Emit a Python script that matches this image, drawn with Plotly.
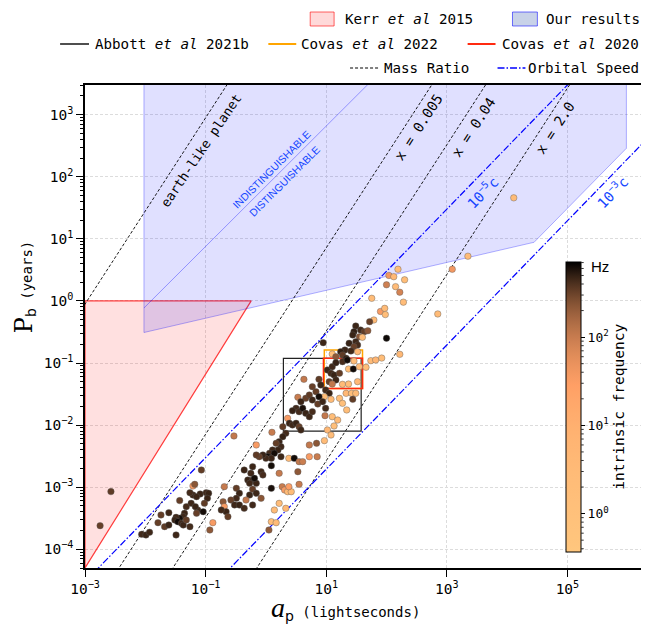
import numpy as np
import plotly.graph_objects as go

# ---------------- data ----------------
# pulsar population: log10 projected semi-major axis (light-seconds),
# log10 binary period (years), intrinsic spin frequency (Hz)
log10_ap = [1.755, 1.79, 1.72, 1.49, 1.57, 1.46, 1.63, 1.44, 1.55, 1.60, 1.49, 1.38, 1.52, 1.46, 1.52,
            1.31, 1.24, 1.27, 1.41, 1.10, 1.16, 1.33, 1.27, 1.35, 0.95, 1.74, 1.82, 1.66, 1.02, 1.10,
            1.16, 1.08, 1.13, 1.22, 1.16, 1.05, 1.10, 1.27, 1.37, 1.52, 1.37, 1.45, 1.46, 1.55, 0.88,
            0.77, 0.91, 0.99, 0.83, 1.05, 0.97, 1.08, 1.22, 1.33, 1.42, 1.49, 1.44, 0.63, 0.53, 0.66,
            0.72, 0.77, 0.88, 0.58, 0.50, 0.44, 0.55, 0.61, 0.66, 0.72, 0.77, 0.86, 0.94, 0.99, 0.98,
            1.10, 1.19, 1.13, 1.02, 1.08, 0.97, 1.34, 1.27, 0.36, 0.28, 0.39, 0.44, 0.50, 0.55, 0.58,
            0.33, 0.28, 0.22, 0.25, 0.17, 0.20, 0.11, 0.06, 0.14, 0.03, 0.09, 0.00, -0.05, -0.11, -0.16,
            0.25, 0.10, -0.53, -0.16, 0.72, 0.84, 0.85, 0.72, 0.38, 0.47, 0.55, 0.53, 0.61, 0.22, 0.09,
            0.09, -0.22, -0.25, -0.30, -0.22, -0.27, -0.16, -0.19, -0.08, -0.05, -0.36, -0.49, -0.44, -0.49, -0.58,
            -0.52, -0.44, -0.36, -0.27, -0.22, -0.16, -0.08, -0.22, -0.33, -0.69, -0.71, -0.69, -0.66, -0.63, -0.74,
            0.27, 0.31, 0.36, 0.42, 0.38, 0.55, 0.22, 0.33, 0.14, 0.09, 0.05, 0.17, -0.88, -0.93, -1.21,
            -1.18, -1.07, -1.09, -0.99, -0.95, -1.21, -1.26, -1.15, -1.43, -1.24, -1.13, -1.17, -1.32, -1.35, -1.37,
            -1.43, -1.49, -1.51, -1.46, -1.40, -1.37, -1.26, -1.32, -1.15, -1.04, -0.97, -1.02, -1.61, -1.74, -1.79,
            -1.68, -1.61, -1.49, -2.06, -1.99, -1.93, -2.75, -2.57, 3.35, 3.09, 2.19, 2.04, 2.12, 2.30, 2.00,
            2.15, 2.22, 2.28, 1.90, 1.97, 1.98, 2.85, 1.69, 2.00, 1.92, 2.22, 4.11]
log10_pb = [0.042, -0.307, -0.334, -0.404, -0.468, -0.495, -0.495, -0.549, -0.576, -0.586, -0.656, -0.683, -0.71, -0.737, -0.817,
            -0.79, -0.817, -0.871, -0.806, -0.855, -0.898, -0.924, -0.978, -0.951, -0.672, -0.962, -0.951, -1.069, -1.112, -1.059,
            -0.994, -1.166, -1.193, -1.166, -1.273, -1.30, -1.338, -1.343, -1.338, -1.30, -1.096, -1.096, -0.967, -1.059, -1.263,
            -1.381, -1.354, -1.434, -1.461, -1.488, -1.542, -1.585, -1.569, -1.488, -1.488, -1.488, -1.585, -1.263, -1.552, -1.569,
            -1.515, -1.595, -1.542, -1.622, -1.73, -1.767, -1.783, -1.73, -1.81, -1.864, -1.783, -1.66, -1.622, -1.73, -1.848,
            -1.864, -1.918, -2.014, -2.078, -2.159, -2.25, -1.756, -1.649, -1.891, -2.025, -1.971, -1.998, -1.971, -2.025, -2.078,
            -2.132, -2.186, -2.266, -2.347, -2.293, -2.401, -2.401, -2.454, -2.454, -2.508, -2.535, -2.535, -2.481, -2.508, -2.481,
            -2.508, -2.116, -2.175, -2.32, -2.32, -2.293, -2.508, -2.508, -2.535, -2.535, -2.588, -2.75, -2.588, -2.776, -2.653,
            -3.018, -2.669, -2.776, -2.884, -2.884, -2.937, -2.937, -2.857, -2.75, -2.803, -2.723, -3.018, -3.098, -3.179, -3.206,
            -3.286, -3.286, -3.34, -3.125, -3.034, -3.098, -3.179, -3.286, -3.206, -2.991, -3.233, -3.313, -3.394, -3.474, -3.367,
            -2.991, -3.045, -3.072, -3.072, -2.991, -2.954, -3.26, -3.34, -3.367, -3.555, -3.689, -3.571, -3.571, -3.689, -2.98,
            -2.954, -2.723, -3.109, -3.088, -3.098, -3.125, -3.088, -3.152, -3.216, -3.259, -3.367, -3.313, -3.313, -3.42, -3.474,
            -3.501, -3.485, -3.528, -3.555, -3.582, -3.609, -3.635, -3.528, -3.42, -3.394, -3.179, -3.259, -3.41, -3.447, -3.571,
            -3.635, -3.609, -3.769, -3.759, -3.769, -3.726, -3.619, -3.071, 0.72, 0.51, 0.51, 0.41, 0.39, 0.34, 0.26,
            0.23, 0.14, -0.02, -0.17, -0.12, -0.22, -0.21, -0.48, -0.60, -0.92, -0.86, 1.66]
freq_hz = [2.5, 3, 330, 470, 450, 500, 340, 480, 230, 2, 460, 490, 440, 320, 4,
           470, 500, 350, 450, 1.5, 220, 480, 430, 620, 460, 3, 5, 2, 470, 450,
           490, 440, 480, 340, 460, 330, 110, 3, 2, 4, 1.5, 640, 2.5, 3, 350,
           330, 470, 450, 340, 480, 2, 3, 1.5, 4, 2, 3, 340, 110, 100, 330,
           350, 460, 620, 470, 450, 490, 440, 600, 480, 460, 430, 340, 470, 450, 110,
           2, 3, 1.5, 4, 2.5, 3, 2, 1.5, 35, 340, 470, 450, 480, 330, 460,
           440, 490, 470, 450, 340, 480, 460, 440, 620, 650, 470, 450, 480, 330, 350,
           460, 100, 110, 35, 110, 230, 100, 35, 3, 640, 110, 220, 95, 105, 620,
           600, 470, 450, 480, 440, 460, 470, 620, 450, 430, 470, 340, 470, 450, 330,
           460, 480, 440, 470, 340, 460, 230, 450, 110, 105, 220, 35, 470, 340, 450,
           100, 35, 3, 2, 30, 100, 2.5, 4, 3, 2, 220, 3, 35, 220, 35,
           230, 340, 470, 450, 480, 460, 440, 470, 340, 460, 450, 480, 440, 470, 450,
           620, 460, 480, 640, 450, 470, 440, 340, 330, 620, 470, 350, 460, 340, 330,
           350, 470, 460, 450, 470, 460, 330, 350, 3, 40, 3, 40, 4, 2, 90,
           3, 80, 2.5, 35, 3, 2, 3, 220, 650, 2, 4, 3]

# Kerr et al 2015 region and "our results" region
kerr_ap = [1e-3, 1e-3, 0.57, 1e-3]
kerr_pb = [5e-5, 1.0, 1.0, 5e-5]
ours_ap = [0.0095, 0.0095, 2.8e4, 9.5e5, 9.5e5, 0.0095]
ours_pb = [1e4, 0.31, 8.8, 287, 1e4, 1e4]
boundary_ap = [0.0095, 100]
boundary_pb = [0.77, 6100]

# search boxes  [ap_min, ap_max], [pb_min, pb_max]
abbott_ap, abbott_pb = [1.95, 38], [0.008, 0.119]
covas22_ap, covas22_pb = [9.3, 40], [0.039, 0.162]
covas20_ap, covas20_pb = [9.0, 40], [0.039, 0.119]

# mass ratio lines (P ~ a^1.5 (1+q)/q^1.5) and orbital speed lines (P ~ a)
mass_ratios = [2e-6, 0.005, 0.04, 2.0]
kepler_norm = 10 ** -4.10           # years at a_p = 1 ls
orbital_labels = ["10<sup>−5</sup>c", "10<sup>−3</sup>c"]
orbital_pb_at_1ls = [0.030, 1.95e-4]

# axis ticks
x_tick_exp = [-3, -1, 1, 3, 5]
y_tick_exp = [-4, -3, -2, -1, 0, 1, 2, 3]

# colour-bar range (Hz)
fmin, fmax = 0.37, 716.0

MONO = "DejaVu Sans Mono"
BLUE = "rgb(20,70,255)"
OFF = 8                       # page body margin of the browser
W, H = 649 - OFF, 633 - OFF
ML, MR, MT, MB = 85 - OFF, 3, 85 - OFF, 65
PW, PH = W - ML - MR, H - MT - MB


def px(xpix):          # reference-picture pixel -> paper x
    return (xpix - OFF - ML) / PW


def py(ypix):          # reference-picture pixel -> paper y
    return (H - MB - (ypix - OFF)) / PH


# ---------------- colour scale: copper_r with sqrt power norm ----------------
lmin, lmax = np.log10(fmin), np.log10(fmax)
colorscale = []
for s in np.linspace(0, 1, 41):
    f = 10 ** (lmin + s * (lmax - lmin))
    v = np.sqrt(max(f - fmin, 0) / (fmax - fmin))
    t = 1 - v
    r, g, b = min(1.0, 1.25 * t), 0.7812 * t, 0.4975 * t
    colorscale.append([float(s), f"rgb({int(r*255)},{int(g*255)},{int(b*255)})"])

fig = go.Figure()

# regions
fig.add_trace(go.Scatter(x=kerr_ap, y=kerr_pb, mode="lines", fill="toself",
                         fillcolor="rgba(255,0,0,0.12)", line=dict(color="rgba(255,0,0,0.75)", width=1.2),
                         name="Kerr et al 2015", hoverinfo="skip"))
fig.add_trace(go.Scatter(x=ours_ap, y=ours_pb, mode="lines", fill="toself",
                         fillcolor="rgba(0,0,255,0.12)", line=dict(color="rgba(0,0,255,0.3)", width=1),
                         name="Our results", hoverinfo="skip"))
fig.add_trace(go.Scatter(x=boundary_ap, y=boundary_pb, mode="lines",
                         line=dict(color="rgba(0,0,255,0.35)", width=1), hoverinfo="skip"))

# mass-ratio lines
ap_line = np.logspace(-4, 7, 12)
for q in mass_ratios:
    pb = kepler_norm * ap_line ** 1.5 * (1 + q) / q ** 1.5
    fig.add_trace(go.Scatter(x=ap_line, y=pb, mode="lines",
                             line=dict(color="black", width=0.9, dash="3px,2px"),
                             name="Mass Ratio", hoverinfo="skip"))
# orbital speed lines
for p1 in orbital_pb_at_1ls:
    fig.add_trace(go.Scatter(x=ap_line, y=p1 * ap_line, mode="lines",
                             line=dict(color="blue", width=1.2, dash="7px,2px,1.5px,2px"),
                             name="Orbital Speed", hoverinfo="skip"))


def rect(ap, pb):
    return ([ap[0], ap[1], ap[1], ap[0], ap[0]], [pb[0], pb[0], pb[1], pb[1], pb[0]])


boxes = [((abbott_ap, abbott_pb), "Abbott <i>et al</i> 2021b", "#222222", 1.2),
         ((covas22_ap, covas22_pb), "Covas <i>et al</i> 2022", "#ffa500", 1.5),
         ((covas20_ap, covas20_pb), "Covas <i>et al</i> 2020", "#ff2a10", 1.5)]
for (ap, pb), nm, col, w in boxes:
    xs, ys = rect(ap, pb)
    fig.add_trace(go.Scatter(x=xs, y=ys, mode="lines", line=dict(color=col, width=w),
                             name=nm, hoverinfo="skip"))

# pulsars
CB_X, CB_Y, CB_LEN, CB_TH = px(568), py(551.7), 290, 15
fig.add_trace(go.Scatter(
    x=10 ** np.array(log10_ap), y=10 ** np.array(log10_pb), mode="markers",
    marker=dict(size=6.5, color=np.log10(freq_hz), colorscale=colorscale, cmin=lmin, cmax=lmax,
                line=dict(color="rgba(90,90,90,0.8)", width=0.5),
                colorbar=dict(x=CB_X, xanchor="left", y=CB_Y, yanchor="bottom", xpad=0, ypad=0,
                              len=CB_LEN, lenmode="pixels", thickness=CB_TH, thicknessmode="pixels",
                              outlinecolor="black", outlinewidth=1,
                              tickvals=[0, 1, 2], ticktext=[f"10<sup>{m}</sup>" for m in (0, 1, 2)],
                              ticks="outside", ticklen=4, tickcolor="black",
                              tickfont=dict(family=MONO, size=13, color="black"),
                              title=dict(text="intrinsic frequency", side="right",
                                         font=dict(family=MONO, size=14.5, color="black")))),
    hoverinfo="skip"))

shapes = []
# colour-bar minor ticks
for n in (-1, 0, 1, 2):
    for k in range(2, 10):
        lv = np.log10(k * 10.0 ** n)
        if lmin <= lv <= lmax:
            yy = CB_Y + (lv - lmin) / (lmax - lmin) * CB_LEN / PH
            x0 = CB_X + CB_TH / PW
            shapes.append(dict(type="line", xref="paper", yref="paper", x0=x0, x1=x0 + 2.5 / PW,
                               y0=yy, y1=yy, line=dict(color="black", width=0.8)))

# ---------------- annotations ----------------
ann = []


def txt(x, y, text, angle, size, color="black", family=MONO):
    ann.append(dict(x=x, y=y, xref="x", yref="y", text=text, showarrow=False, textangle=angle,
                    font=dict(family=family, size=size, color=color), xanchor="center", yanchor="middle"))


txt(-1.07, 2.417, "earth-like planet", -56, 13)
txt(2.537, 2.793, "x = 0.005", -57, 14)
txt(3.446, 2.796, "x = 0.04", -57, 14)
txt(4.797, 2.780, "x = 2.0", -57, 14)
txt(3.595, 1.749, orbital_labels[0], -45.7, 14, BLUE)
txt(5.744, 1.749, orbital_labels[1], -45.7, 14, BLUE)
txt(0.099, 2.124, "INDISTINGUISHABLE", -45, 10.5, BLUE, "Liberation Sans")
txt(0.306, 1.934, "DISTINGUISHABLE", -45, 10.5, BLUE, "Liberation Sans")

ann.append(dict(x=px(602), y=py(266.7), xref="paper", yref="paper", text="Hz", showarrow=False,
                font=dict(family="Liberation Sans", size=15, color="black"), xanchor="center", yanchor="middle"))
ann.append(dict(x=px(346), y=py(608), xref="paper", yref="paper", showarrow=False,
                text="<span style=\"font-family:'Liberation Serif';font-size:28px\"><i>a</i></span>"
                     "<sub>p</sub><span style=\"font-family:'DejaVu Sans Mono';font-size:14px\"> (lightseconds)</span>",
                font=dict(family="DejaVu Sans", size=20, color="black"), xanchor="center", yanchor="middle"))
ann.append(dict(x=px(24), y=py(287), xref="paper", yref="paper", showarrow=False, textangle=-90,
                text="<span style=\"font-family:'DejaVu Serif';font-size:24px\">P</span>"
                     "<sub>b</sub><span style=\"font-family:'DejaVu Sans Mono';font-size:14px\"> (years)</span>",
                font=dict(family="DejaVu Sans", size=20, color="black"), xanchor="center", yanchor="middle"))

# ---------------- legend (drawn by hand, three right-aligned rows) ----------------
LEG_FONT = dict(family=MONO, size=14.2, color="black")


def leg_text(xpix, ypix, text):
    ann.append(dict(x=px(xpix), y=py(ypix), xref="paper", yref="paper", text=text, showarrow=False,
                    xanchor="left", yanchor="middle", font=LEG_FONT, borderpad=0))


def leg_patch(x0, x1, ypix, fill, edge):
    shapes.append(dict(type="rect", xref="paper", yref="paper", x0=px(x0), x1=px(x1),
                       y0=py(ypix + 7), y1=py(ypix - 7), fillcolor=fill, line=dict(color=edge, width=1)))


def leg_line(x0, x1, ypix, color, width, dash="solid"):
    shapes.append(dict(type="line", xref="paper", yref="paper", x0=px(x0), x1=px(x1),
                       y0=py(ypix), y1=py(ypix), line=dict(color=color, width=width, dash=dash)))


leg_patch(311, 335, 19, "rgba(255,0,0,0.15)", "rgba(255,0,0,0.6)")
leg_text(345, 19, "Kerr <i>et al</i> 2015")
leg_patch(514, 539, 19, "rgb(200,210,232)", "rgba(0,0,255,0.55)")
leg_text(547, 19, "Our results")

for (x0, x1, xt), (_, nm, col, w) in zip([(60, 89, 94), (269, 297, 301), (469, 497, 502)], boxes):
    leg_line(x0, x1, 44, col, 2 if col != "#222222" else 1.6)
    leg_text(xt, 44, nm)

leg_line(351, 381, 68, "black", 1, "3px,2px")
leg_text(384, 68, "Mass Ratio")
leg_line(499, 527, 68, "blue", 1.3, "7px,2px,1.5px,2px")
leg_text(529, 68, "Orbital Speed")

axis_common = dict(type="log", showline=True, linecolor="black", linewidth=1.5, mirror=True,
                   ticks="outside", ticklen=7, tickwidth=1.2, tickcolor="black",
                   showgrid=True, gridcolor="#dcdcdc", gridwidth=0.8, griddash="3px,2px",
                   tickmode="array", tickfont=dict(family=MONO, size=14.5, color="black"))


def pow_labels(exps):
    return [10.0 ** e for e in exps], [f"10<sup>{str(e).replace('-', '−')}</sup>" for e in exps]


xtv, xtt = pow_labels(x_tick_exp)
ytv, ytt = pow_labels(y_tick_exp)

fig.update_layout(
    width=W, height=H, margin=dict(l=ML, r=MR, t=MT, b=MB),
    paper_bgcolor="white", plot_bgcolor="white", showlegend=False,
    xaxis=dict(axis_common, range=[-3, 6.27], tickvals=xtv, ticktext=xtt),
    yaxis=dict(axis_common, range=[np.log10(5e-5), np.log10(3000)], tickvals=ytv, ticktext=ytt,
               minor=dict(ticks="outside", ticklen=3.5, tickwidth=0.8, tickcolor="black",
                          dtick="D1", showgrid=False)),
    annotations=ann, shapes=shapes,
)

fig.write_html("out.html")
